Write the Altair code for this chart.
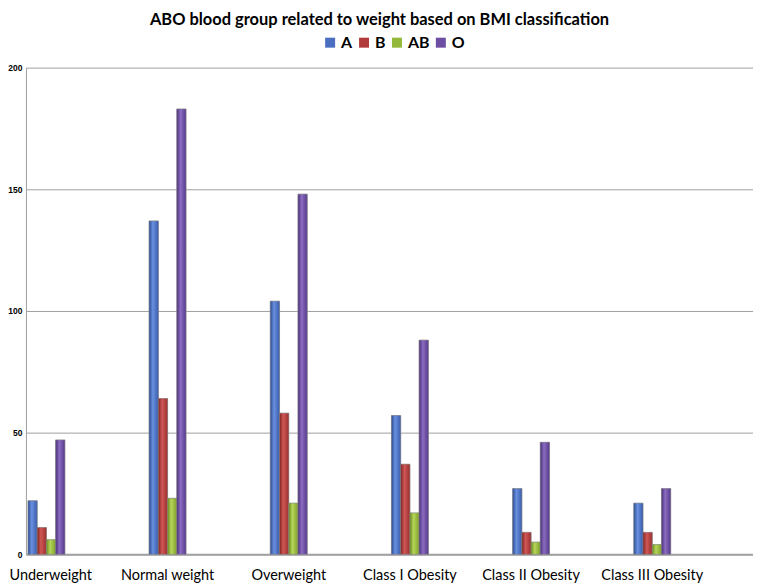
import altair as alt
import pandas as pd

categories = ["Underweight", "Normal weight", "Overweight", "Class I Obesity", "Class II Obesity", "Class III Obesity"]
groups = ["A", "B", "AB", "O"]
values_A = [22, 137, 104, 57, 27, 21]
values_B = [11, 64, 58, 37, 9, 9]
values_AB = [6, 23, 21, 17, 5, 4]
values_O = [47, 183, 148, 88, 46, 27]
y_ticks = [0, 50, 100, 150, 200]

series = {"A": values_A, "B": values_B, "AB": values_AB, "O": values_O}
rows = []
for g in groups:
    for c, v in zip(categories, series[g]):
        rows.append({"category": c, "group": g, "value": v})
df = pd.DataFrame(rows)

base_colors = ["#4a6fc0", "#b13b3a", "#94b83a", "#6e4ea3"]
grads = {
    "A": ["#2c4b91", "#6990e0", "#3a5cab"],
    "B": ["#7d2221", "#d05755", "#9a2f2e"],
    "AB": ["#6a8a1f", "#b5d65a", "#7f9f2a"],
    "O": ["#4a2f7a", "#8a6cc0", "#573a8c"],
}

x_enc = alt.X("category:N", sort=categories, title=None,
              scale=alt.Scale(paddingInner=0.6955, paddingOuter=0.348, align=0.024),
              axis=alt.Axis(labelAngle=0, labelFontSize=14.5, labelFont="Lato", labelColor="#000000",
                            labelPadding=14, ticks=False, domainColor="#a0a0a0",
                            labelFlush=25, labelFlushOffset=37,
                            domainWidth=2, grid=False))
xo_enc = alt.XOffset("group:N", scale=alt.Scale(domain=groups, paddingOuter=0, paddingInner=0))
y_enc = alt.Y("value:Q", title=None,
              scale=alt.Scale(domain=[0, 200], nice=False),
              axis=alt.Axis(values=y_ticks, labelFontSize=8.5, labelFontWeight="bold", labelFont="Liberation Sans",
                            labelColor="#000000", ticks=False, labelPadding=4, domainColor="#a0a0a0",
                            gridColor="#a0a0a0", gridWidth=1))

base = alt.Chart(df).mark_bar(stroke="#9a9a9a", strokeWidth=0.6).encode(
    x=x_enc, xOffset=xo_enc, y=y_enc,
    color=alt.Color("group:N", sort=groups,
                    scale=alt.Scale(domain=groups, range=base_colors),
                    legend=alt.Legend(title=None, orient="none", direction="horizontal",
                                      legendX=297, legendY=-33, symbolType="square", symbolSize=100,
                                      symbolStrokeWidth=0, labelFontSize=16, labelFontWeight="bold",
                                      labelFont="Lato", labelColor="#000000", columnPadding=3,
                                      labelOffset=3)),
)

layers = [base]
for g in groups:
    s = grads[g]
    layers.append(
        alt.Chart(df).transform_filter(alt.datum.group == g).mark_bar(
            color=alt.Gradient(gradient="linear", x1=0, x2=1, y1=0, y2=0,
                               stops=[alt.GradientStop(offset=0, color=s[0]),
                                      alt.GradientStop(offset=0.4, color=s[1]),
                                      alt.GradientStop(offset=1, color=s[2])]),
            stroke="#8a8a8a", strokeWidth=0.5,
        ).encode(x=x_enc, xOffset=xo_enc, y=y_enc)
    )

chart = alt.layer(*layers).properties(
    width=729, height=488,
    autosize=alt.AutoSizeParams(type="none"),
    padding={"left": 18, "top": 59, "right": 0, "bottom": 28},
    title=alt.Title("ABO blood group related to weight based on BMI classification",
                    fontSize=16.5, fontWeight="bold", font="Lato", color="#000000",
                    anchor="middle", dx=-10, offset=6),
).configure_view(strokeWidth=0)

chart.save("out.html", embed_options={"renderer": "svg", "actions": False})
